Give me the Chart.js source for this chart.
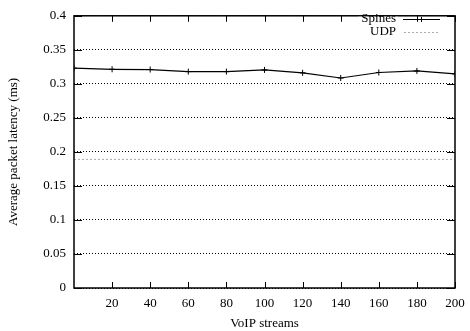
<!DOCTYPE html>
<html>
<head>
<meta charset="utf-8">
<script src="https://cdn.jsdelivr.net/npm/chart.js@4.4.0/dist/chart.umd.min.js"></script>
<style>
  html, body { margin: 0; padding: 0; background: #fff; }
  #wrap { width: 470px; height: 331px; }
</style>
</head>
<body>
<div id="wrap"><canvas id="latencyChart"></canvas></div>
<script>
// values
const streams = [0, 20, 40, 60, 80, 100, 120, 140, 160, 180, 200];
const spinesLatency = [0.323, 0.3214, 0.321, 0.318, 0.318, 0.3205, 0.3162, 0.3086, 0.3167, 0.319, 0.3147];
const udpLatency = [0.189, 0.189, 0.189, 0.189, 0.189, 0.189, 0.189, 0.189, 0.189, 0.189, 0.189];
const xTicks = [20, 40, 60, 80, 100, 120, 140, 160, 180, 200];
const yTicks = [0, 0.05, 0.1, 0.15, 0.2, 0.25, 0.3, 0.35, 0.4];

const serif = "'Liberation Serif', 'DejaVu Serif', serif";

// gnuplot style frame, inward ticks and the key in the top right corner
const gnuplotFrame = {
  id: "gnuplotFrame",
  afterDatasetsDraw(chart) {
    const { ctx, chartArea: a, scales } = chart;
    ctx.save();
    ctx.strokeStyle = "#000";
    ctx.lineWidth = 1;
    ctx.setLineDash([]);
    ctx.beginPath();
    xTicks.forEach(v => {
      const px = Math.round(scales.x.getPixelForValue(v)) + 0.5;
      ctx.moveTo(px, a.bottom); ctx.lineTo(px, a.bottom - 6);
      ctx.moveTo(px, a.top); ctx.lineTo(px, a.top + 6);
    });
    yTicks.forEach(v => {
      const py = Math.round(scales.y.getPixelForValue(v)) + 0.5;
      ctx.moveTo(a.left, py); ctx.lineTo(a.left + 8, py);
      ctx.moveTo(a.right, py); ctx.lineTo(a.right - 8, py);
    });
    ctx.stroke();

    ctx.lineWidth = 1.5;
    ctx.strokeRect(a.left, a.top, a.right - a.left, a.bottom - a.top);

    // key (text blanks what lies under it, like gnuplot does)
    ctx.fillStyle = "#fff";
    ctx.fillRect(358, a.top + 1, 40, 30);
    ctx.font = "13px " + serif;
    ctx.fillStyle = "#000";
    ctx.textAlign = "right";
    ctx.textBaseline = "middle";
    ctx.fillText("Spines", 396, 19);
    ctx.fillText("UDP", 396, 32);
    ctx.lineWidth = 1;
    ctx.beginPath();
    ctx.moveTo(403, 19.5); ctx.lineTo(440, 19.5);
    ctx.moveTo(421.5, 17); ctx.lineTo(421.5, 22);
    ctx.stroke();
    ctx.strokeStyle = "#aaa";
    ctx.setLineDash([2, 2]);
    ctx.beginPath();
    ctx.moveTo(404, 32.5); ctx.lineTo(440, 32.5);
    ctx.stroke();
    ctx.restore();
  }
};

const ctx = document.getElementById("latencyChart").getContext("2d");
new Chart(ctx, {
  type: "line",
  data: {
    datasets: [
      {
        label: "Spines",
        data: streams.map((s, i) => ({ x: s, y: spinesLatency[i] })),
        borderColor: "#000",
        backgroundColor: "#000",
        borderWidth: 1.2,
        pointStyle: "cross",
        pointRadius: 3,
        pointBorderWidth: 1,
        tension: 0
      },
      {
        label: "UDP",
        data: streams.map((s, i) => ({ x: s, y: udpLatency[i] })),
        borderColor: "#aaa",
        borderWidth: 1,
        borderDash: [2, 2],
        pointRadius: 0,
        tension: 0
      }
    ]
  },
  options: {
    responsive: true,
    maintainAspectRatio: false,
    animation: false,
    layout: { padding: { top: 8, right: 15, left: 0, bottom: 0 } },
    plugins: {
      legend: { display: false },
      tooltip: { enabled: false }
    },
    scales: {
      x: {
        type: "linear",
        min: 0,
        max: 200,
        afterBuildTicks(scale) {
          scale.ticks = xTicks.map(v => ({ value: v }));
        },
        afterFit(scale) {
          scale.height = 43;
          scale.paddingLeft = 0;
          scale.paddingRight = 0;
        },
        grid: { display: false, drawTicks: false },
        border: { display: false },
        ticks: {
          color: "#000",
          padding: 8,
          maxRotation: 0,
          font: { family: serif, size: 13 }
        },
        title: {
          display: true,
          text: "VoIP streams",
          color: "#000",
          padding: { top: 3, bottom: 0 },
          font: { family: serif, size: 13 }
        }
      },
      y: {
        min: 0,
        max: 0.4,
        afterBuildTicks(scale) {
          scale.ticks = yTicks.map(v => ({ value: v }));
        },
        afterFit(scale) { scale.width = 74; },
        grid: { color: "#000", lineWidth: 1, drawTicks: false },
        border: { display: false, dash: [1, 2] },
        ticks: {
          color: "#000",
          padding: 8,
          font: { family: serif, size: 13 },
          callback: v => String(parseFloat(v.toFixed(2)))
        },
        title: {
          display: true,
          text: "Average packet latency (ms)",
          color: "#000",
          padding: { top: 6, bottom: 0 },
          font: { family: serif, size: 13 }
        }
      }
    }
  },
  plugins: [gnuplotFrame]
});
</script>
</body>
</html>
